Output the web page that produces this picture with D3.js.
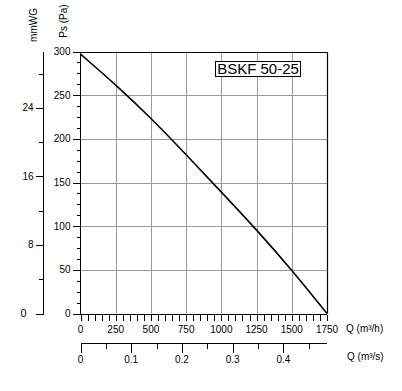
<!DOCTYPE html>
<html>
<head>
<meta charset="utf-8">
<style>
  body { margin: 0; background: #fff; }
  text { font-family: "Liberation Sans", Arial, sans-serif; fill: #000; }
  .grid line { stroke: #9a9a9a; stroke-width: 1px; }
  .axis path, .axis line { stroke: #000; shape-rendering: crispEdges; }
  .axis text { font-size: 10px; }
</style>
</head>
<body>
<script src="https://cdn.jsdelivr.net/npm/d3@7/dist/d3.min.js"></script>
<script>
// curve: airflow (m3/h) vs static pressure (Pa)
var flowM3h = [0, 250, 500, 750, 1000, 1250, 1500, 1750];
var pressurePa = [297, 262, 224, 182, 139, 96, 50, 0];

var flowTicks = [0, 250, 500, 750, 1000, 1250, 1500, 1750];
var paTicks = [0, 50, 100, 150, 200, 250, 300];
var mmTicks = [8, 16, 24];
var m3sTicks = [0, 0.1, 0.2, 0.3, 0.4];
var modelName = "BSKF 50-25";

var width = 402, height = 391;
var PA_PER_MM = 9.80665;

var svg = d3.select("body").append("svg")
    .attr("width", width)
    .attr("height", height);

var x = d3.scaleLinear().domain([0, 1750]).range([80.5, 327]);
var y = d3.scaleLinear().domain([0, 300]).range([313.5, 51.5]);
var xs = d3.scaleLinear().domain([0, 1750 / 3600]).range(x.range());
var mm = d3.scaleLinear().domain([0, 300 / PA_PER_MM]).range(y.range());

// grid
var grid = svg.append("g").attr("class", "grid");
grid.selectAll(".v").data(flowTicks.slice(1, -1)).enter().append("line")
    .attr("x1", function (d) { return Math.round(x(d)) + 0.5; })
    .attr("x2", function (d) { return Math.round(x(d)) + 0.5; })
    .attr("y1", y(300)).attr("y2", y(0));
grid.selectAll(".h").data(paTicks.slice(1, -1)).enter().append("line")
    .attr("x1", x(0)).attr("x2", x(1750))
    .attr("y1", function (d) { return Math.round(y(d)) + 0.5; })
    .attr("y2", function (d) { return Math.round(y(d)) + 0.5; });

// frame top + right
svg.append("path")
    .attr("d", "M" + x(0) + "," + (Math.round(y(300)) + 0.5) + "H" + (Math.round(x(1750)) + 0.5) + "V" + y(0))
    .attr("fill", "none").attr("stroke", "#000").attr("stroke-width", 1.2);

// Pa axis
var paMinor = d3.range(0, 300.1, 12.5);
var paAxis = svg.append("g").attr("class", "axis")
    .attr("transform", "translate(" + x(0) + ",0)");
paAxis.call(d3.axisLeft(y).tickValues(paMinor).tickSize(4).tickFormat(""));
paAxis.call(function (g) {
    g.select(".domain").remove();
});
paAxis.append("line").attr("x1", 0).attr("x2", 0).attr("y1", y(300)).attr("y2", y(0)).attr("stroke", "#000");
paAxis.selectAll(".major").data(paTicks).enter().append("line")
    .attr("x1", -8).attr("x2", 0)
    .attr("y1", function (d) { return Math.round(y(d)) + 0.5; })
    .attr("y2", function (d) { return Math.round(y(d)) + 0.5; });
paAxis.selectAll(".lbl").data(paTicks).enter().append("text")
    .attr("x", -10).attr("y", function (d) { return y(d); })
    .attr("dy", "0.35em").attr("text-anchor", "end")
    .style("font-size", "10px")
    .text(function (d) { return d; });

// flow axis m3/h
var flowMinor = d3.range(0, 1750.1, 50);
var fAxis = svg.append("g").attr("class", "axis")
    .attr("transform", "translate(0," + (Math.round(y(0)) + 0.5) + ")");
fAxis.call(d3.axisBottom(x).tickValues(flowMinor).tickSize(6).tickFormat(""));
fAxis.select(".domain").attr("d", "M" + x(0) + ",0H" + x(1750)).attr("stroke-width", 1.2);
fAxis.selectAll(".lbl").data(flowTicks).enter().append("text")
    .attr("x", function (d) { return x(d); }).attr("y", 18)
    .attr("text-anchor", "middle").style("font-size", "10px")
    .text(function (d) { return d; });
svg.append("text").attr("x", 346).attr("y", 331.5)
    .style("font-size", "10px").text("Q (m³/h)");

// flow axis m3/s
var sAxis = svg.append("g").attr("class", "axis")
    .attr("transform", "translate(0,343.5)");
sAxis.append("line").attr("x1", xs(0)).attr("x2", xs(1750 / 3600)).attr("y1", 0).attr("y2", 0);
sAxis.selectAll(".minor").data(d3.range(0.05, 0.48, 0.1)).enter().append("line")
    .attr("x1", function (d) { return Math.round(xs(d)) + 0.5; })
    .attr("x2", function (d) { return Math.round(xs(d)) + 0.5; })
    .attr("y1", 0).attr("y2", 5);
sAxis.selectAll(".major").data(m3sTicks).enter().append("line")
    .attr("x1", function (d) { return Math.round(xs(d)) + 0.5; })
    .attr("x2", function (d) { return Math.round(xs(d)) + 0.5; })
    .attr("y1", 0).attr("y2", 9);
sAxis.selectAll(".lbl").data(m3sTicks).enter().append("text")
    .attr("x", function (d) { return xs(d); }).attr("y", 19)
    .attr("text-anchor", "middle").style("font-size", "10px")
    .text(function (d) { return d; });
svg.append("text").attr("x", 347).attr("y", 360)
    .style("font-size", "10px").text("Q (m³/s)");

// mmWG axis
var mAxis = svg.append("g").attr("class", "axis")
    .attr("transform", "translate(43.5,0)");
mAxis.append("line").attr("x1", 0).attr("x2", 0).attr("y1", y(300)).attr("y2", y(0));
mAxis.selectAll(".minor").data([4, 12, 20, 28]).enter().append("line")
    .attr("x1", -5).attr("x2", 0)
    .attr("y1", function (d) { return Math.round(mm(d)) + 0.5; })
    .attr("y2", function (d) { return Math.round(mm(d)) + 0.5; });
mAxis.selectAll(".major").data([0].concat(mmTicks)).enter().append("line")
    .attr("x1", -8).attr("x2", 0)
    .attr("y1", function (d) { return Math.round(mm(d)) + 0.5; })
    .attr("y2", function (d) { return Math.round(mm(d)) + 0.5; });
mAxis.selectAll(".lbl").data(mmTicks).enter().append("text")
    .attr("x", -10).attr("y", function (d) { return mm(d); })
    .attr("dy", "0.35em").attr("text-anchor", "end")
    .style("font-size", "10px")
    .text(function (d) { return d; });
mAxis.append("text").attr("x", -17).attr("y", mm(0))
    .attr("dy", "0.35em").attr("text-anchor", "end")
    .style("font-size", "11px")
    .text("0");

// axis titles
svg.append("text").attr("transform", "translate(37,25) rotate(-90)")
    .attr("text-anchor", "middle").style("font-size", "10px").text("mmWG");
svg.append("text").attr("transform", "translate(67,21) rotate(-90)")
    .attr("text-anchor", "middle").style("font-size", "10px").text("Ps (Pa)");

// curve
var pts = flowM3h.map(function (q, i) { return [q, pressurePa[i]]; });
svg.append("path")
    .datum(pts)
    .attr("fill", "none").attr("stroke", "#000").attr("stroke-width", 1.6)
    .attr("d", d3.line()
        .x(function (d) { return x(d[0]); })
        .y(function (d) { return y(d[1]); })
        .curve(d3.curveBasis));

// model label
var lbl = svg.append("g");
lbl.append("rect").attr("x", 215.5).attr("y", 61.5).attr("width", 85).attr("height", 15)
    .attr("fill", "#fff").attr("stroke", "#000");
lbl.append("text").attr("x", 258).attr("y", 74)
    .attr("text-anchor", "middle").style("font-size", "15px").text(modelName);
</script>
</body>
</html>
